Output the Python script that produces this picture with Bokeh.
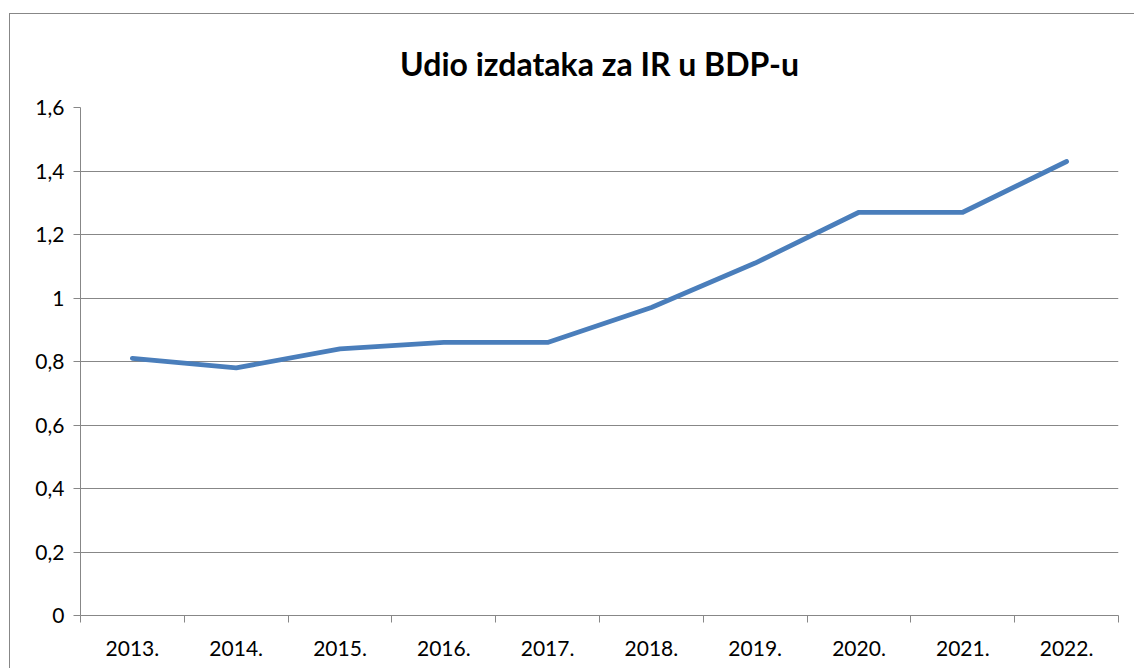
from bokeh.plotting import figure
from bokeh.models import (Range1d, LinearAxis, FixedTicker, CustomJSTickFormatter, ColumnDataSource)
from bokeh.embed import file_html
from bokeh.resources import INLINE

years = ["2013.", "2014.", "2015.", "2016.", "2017.", "2018.", "2019.", "2020.", "2021.", "2022."]
share = [0.81, 0.78, 0.84, 0.86, 0.86, 0.97, 1.11, 1.27, 1.27, 1.43]
y_ticks = [0, 0.2, 0.4, 0.6, 0.8, 1.0, 1.2, 1.4, 1.6]
title_text = "Udio izdataka za IR u BDP-u"

FONT = "Lato"
GRID = "#878787"

n = len(years)
slot_centers = [i + 0.5 for i in range(n)]
slot_edges = list(range(n + 1))

p = figure(width=1125, height=655,
           x_range=Range1d(0, n),
           y_range=Range1d(0, 1.6),
           x_axis_location=None, y_axis_location="left",
           output_backend="svg", toolbar_location=None,
           min_border_left=70, min_border_right=17, min_border_top=93, min_border_bottom=54)
p.styles = {"border-left": "1px solid #878787", "border-top": "1px solid #878787",
            "margin-left": "9px", "margin-top": "13px"}
p.outline_line_color = None
p.background_fill_color = "white"
p.border_fill_color = "white"

p.title.text = title_text
p.title.align = "center"
p.title.vertical_align = "middle"
p.title.text_font = FONT
p.title.text_font_size = "32px"
p.title.text_font_style = "bold"
p.title.text_color = "black"
p.title.standoff = 48

src = ColumnDataSource(dict(x=slot_centers, share=share, year=years))
p.line("x", "share", source=src, line_color="#4A7EBB", line_width=4.8,
       line_cap="round", line_join="round")

# y axis
ya = p.yaxis[0]
ya.ticker = FixedTicker(ticks=y_ticks)
ya.formatter = CustomJSTickFormatter(code="var s = (Math.round(tick*10)/10).toString(); return s.replace('.', ',');")
ya.axis_line_color = GRID
ya.major_tick_line_color = GRID
ya.major_tick_out = 7
ya.major_tick_in = 0
ya.minor_tick_line_color = None
ya.major_label_standoff = 9
ya.major_label_text_font = FONT
ya.major_label_text_font_size = "21px"
ya.major_label_text_color = "black"

p.ygrid.ticker = FixedTicker(ticks=y_ticks)
p.ygrid.grid_line_color = GRID
p.ygrid.grid_line_width = 1
p.xgrid.grid_line_color = None

# x axis: ticks at category boundaries, no labels
xb = LinearAxis(ticker=FixedTicker(ticks=slot_edges))
xb.axis_line_color = GRID
xb.major_tick_line_color = GRID
xb.major_tick_out = 7
xb.major_tick_in = 0
xb.minor_tick_line_color = None
xb.major_label_text_font_size = "0px"
xb.major_label_standoff = 0
xb.formatter = CustomJSTickFormatter(code="return '';")
p.add_layout(xb, "below")

# category labels at slot centres
xc = LinearAxis(ticker=FixedTicker(ticks=slot_centers))
xc.formatter = CustomJSTickFormatter(args=dict(labels=years),
                                     code="return labels[Math.floor(tick)];")
xc.axis_line_color = None
xc.major_tick_line_color = None
xc.minor_tick_line_color = None
xc.major_label_standoff = 12
xc.major_label_text_font = FONT
xc.major_label_text_font_size = "21px"
xc.major_label_text_color = "black"
p.add_layout(xc, "below")

open("out.html", "w").write(file_html(p, INLINE))
